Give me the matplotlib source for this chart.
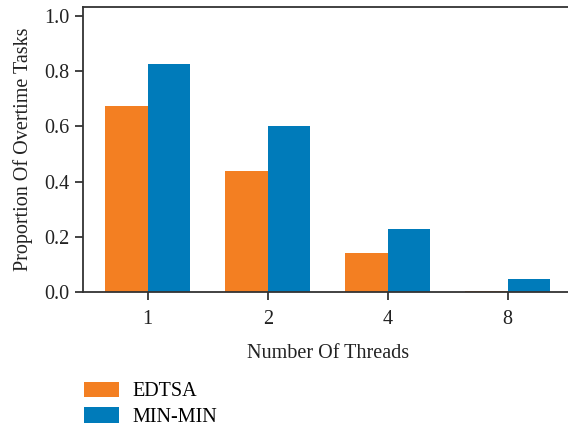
import matplotlib
matplotlib.use("Agg")
import matplotlib.pyplot as plt
import numpy as np

threads = ["1", "2", "4", "8"]
edtsa = [0.674, 0.438, 0.141, 0.003]
minmin = [0.826, 0.601, 0.228, 0.047]
series_names = ["EDTSA", "MIN-MIN"]
colors = ["#F37F22", "#007BBA"]

plt.rcParams['font.family'] = ['Liberation Serif', 'DejaVu Serif']
fs = 14.5

fig = plt.figure(figsize=(5.68, 4.30), dpi=100)
ax = fig.add_axes([0.146, 0.321, 0.864, 0.663])

x = np.arange(len(threads))
w = 0.355
ax.bar(x - w / 2, edtsa, width=w, color=colors[0], label=series_names[0])
ax.bar(x + w / 2, minmin, width=w, color=colors[1], label=series_names[1])

ax.set_xlim(-0.54, 3.55)
ax.set_ylim(0, 1.033)
ax.set_xticks(x)
ax.set_xticklabels(threads)
ax.set_yticks([0.0, 0.2, 0.4, 0.6, 0.8, 1.0])
ax.set_yticklabels(["0.0", "0.2", "0.4", "0.6", "0.8", "1.0"])
ax.tick_params(labelsize=fs, colors="#222222", length=6, width=1.2, direction="out")
ax.tick_params(axis="x", pad=7)
for s in ["left", "top", "bottom"]:
    ax.spines[s].set_color("#333333")
    ax.spines[s].set_linewidth(1.3)
ax.spines["right"].set_visible(False)

ax.set_xlabel("Number Of Threads", fontsize=fs, color="#222222", labelpad=11)
ax.set_ylabel("Proportion Of Overtime Tasks", fontsize=fs, color="#222222", labelpad=8)

handles, labels = ax.get_legend_handles_labels()
fig.legend(handles, labels, loc="lower left", bbox_to_anchor=(0.134, -0.012),
           frameon=False, fontsize=fs, handlelength=1.75, handleheight=0.8,
           labelspacing=0.3, handletextpad=0.65, borderaxespad=0)

fig.savefig("out.png", dpi=100)
